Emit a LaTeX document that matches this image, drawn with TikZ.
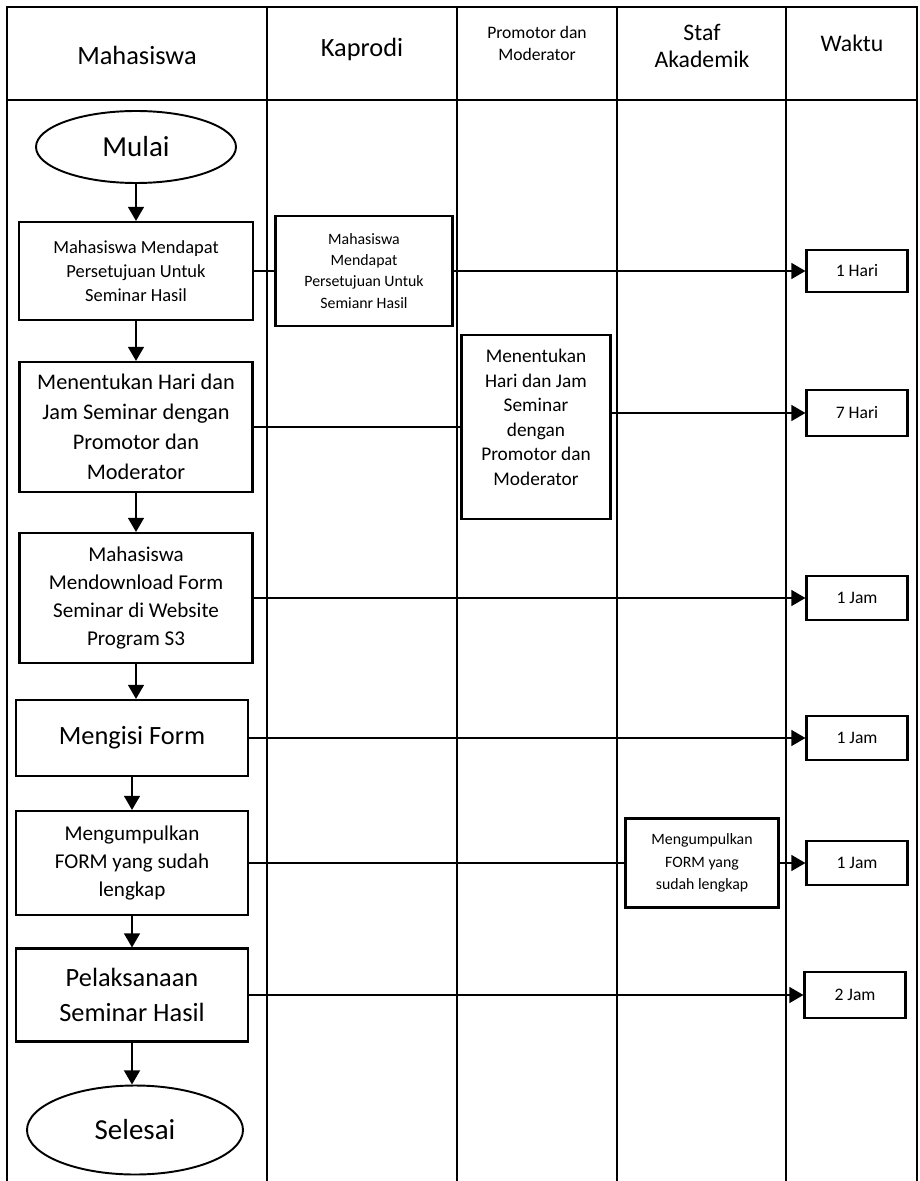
\documentclass[tikz,border=0pt]{standalone}
\usepackage{fontspec}
\setmainfont{Carlito}
\usetikzlibrary{arrows.meta, shapes.geometric}

\begin{document}
\begin{tikzpicture}[x=0.2mm, y=-0.2mm,
    lane/.style={line width=0.9pt},
    proc/.style={draw, line width=1.2pt, inner sep=0pt, align=center},
    term/.style={draw, ellipse, line width=1.1pt, inner sep=0pt, font=\fontsize{16.5}{20}\selectfont},
    dur/.style={draw, line width=1.2pt, inner sep=0pt, minimum width=20.2mm, minimum height=8.8mm, font=\fontsize{10}{12}\selectfont},
    head/.style={align=center, inner sep=0pt},
    flow/.style={line width=1.1pt, -{Triangle[length=8pt, width=9pt]}},
    link/.style={line width=1.1pt}]
  \useasboundingbox (0,0) rectangle (919,1181);
  % lanes
  \draw[lane] (7,1181) -- (7,7) -- (917,7) -- (917,1181);
  \draw[lane] (7,100) -- (917,100);
  \foreach \x in {267,457,617,786}
    \draw[lane] (\x,7) -- (\x,1181);
  \node[head, font=\fontsize{15}{18}\selectfont] (hMhs) at (137,55) {Mahasiswa};
  \node[head, font=\fontsize{15}{18}\selectfont] (hKap) at (362,49) {Kaprodi};
  \node[head, font=\fontsize{10}{12.5}\selectfont] (hProm) at (537,43) {Promotor dan\\Moderator};
  \node[head, font=\fontsize{13.5}{15}\selectfont] (hStaf) at (702,46) {Staf\\Akademik};
  \node[head, font=\fontsize{13.5}{16}\selectfont] (hWkt) at (852,43) {Waktu};
  % steps
  \node[term, minimum width=40mm, minimum height=14.4mm] (mulai) at (136,147) {Mulai};
  \node[proc, minimum width=46.8mm, minimum height=19.6mm, font=\fontsize{10.5}{13.7}\selectfont] (setuju) at (136,271)
    {Mahasiswa Mendapat\\Persetujuan Untuk\\Seminar Hasil};
  \node[proc, minimum width=35.4mm, minimum height=22mm, font=\fontsize{9}{12}\selectfont] (kapSetuju) at (364,271)
    {Mahasiswa\\Mendapat\\Persetujuan Untuk\\Semianr Hasil};
  \node[proc, minimum width=46.6mm, minimum height=26mm, font=\fontsize{12.7}{17}\selectfont] (jadwal) at (136,427)
    {Menentukan Hari dan\\Jam Seminar dengan\\Promotor dan\\Moderator};
  \node[proc, minimum width=29.8mm, minimum height=36.8mm, text depth=11pt, font=\fontsize{11}{13.9}\selectfont] (promJadwal) at (536,427)
    {Menentukan\\Hari dan Jam\\Seminar\\dengan\\Promotor dan\\Moderator};
  \node[proc, minimum width=46.6mm, minimum height=26mm, font=\fontsize{12}{16}\selectfont] (unduh) at (136,598)
    {Mahasiswa\\Mendownload Form\\Seminar di Website\\Program S3};
  \node[proc, minimum width=46.4mm, minimum height=15.2mm, font=\fontsize{15}{18}\selectfont] (isi) at (132,738)
    {Mengisi Form};
  \node[proc, minimum width=46.4mm, minimum height=20.8mm, font=\fontsize{12}{16}\selectfont] (kumpul) at (132,863)
    {Mengumpulkan\\FORM yang sudah\\lengkap};
  \node[proc, minimum width=30.6mm, minimum height=17.8mm, font=\fontsize{9}{13}\selectfont] (stafKumpul) at (702,863)
    {Mengumpulkan\\FORM yang\\sudah lengkap};
  \node[proc, minimum width=46.4mm, minimum height=18.6mm, font=\fontsize{15}{20}\selectfont] (seminar) at (132,995)
    {Pelaksanaan\\Seminar Hasil};
  \node[term, minimum width=43.2mm, minimum height=17.8mm] (selesai) at (135,1130) {Selesai};
  % waktu
  \node[dur, minimum height=8.4mm] (w1) at (857,271) {1 Hari};
  \node[dur, minimum height=9.2mm] (w2) at (857,413) {7 Hari};
  \node[dur] (w3) at (857,598) {1 Jam};
  \node[dur] (w4) at (857,738) {1 Jam};
  \node[dur] (w5) at (857,863) {1 Jam};
  \node[dur, minimum height=9.2mm] (w6) at (855,995) {2 Jam};
  % connectors
  \draw[flow] (mulai.south) -- (mulai.south |- setuju.north);
  \draw[flow] (setuju.south) -- (setuju.south |- jadwal.north);
  \draw[flow] (jadwal.south) -- (jadwal.south |- unduh.north);
  \draw[flow] (unduh.south) -- (unduh.south |- isi.north);
  \draw[flow] (isi.south) -- (isi.south |- kumpul.north);
  \draw[flow] (kumpul.south) -- (kumpul.south |- seminar.north);
  \draw[flow] (seminar.south) -- (seminar.south |- selesai.north);
  \draw[link] (setuju.east) -- (kapSetuju.west);
  \draw[flow] (kapSetuju.east) -- (w1.west);
  \draw[link] (jadwal.east) -- (promJadwal.west);
  \draw[flow] (promJadwal.east |- w2.west) -- (w2.west);
  \draw[flow] (unduh.east) -- (w3.west);
  \draw[flow] (isi.east) -- (w4.west);
  \draw[link] (kumpul.east) -- (stafKumpul.west);
  \draw[flow] (stafKumpul.east) -- (w5.west);
  \draw[flow] (seminar.east) -- (w6.west);
\end{tikzpicture}
\end{document}
